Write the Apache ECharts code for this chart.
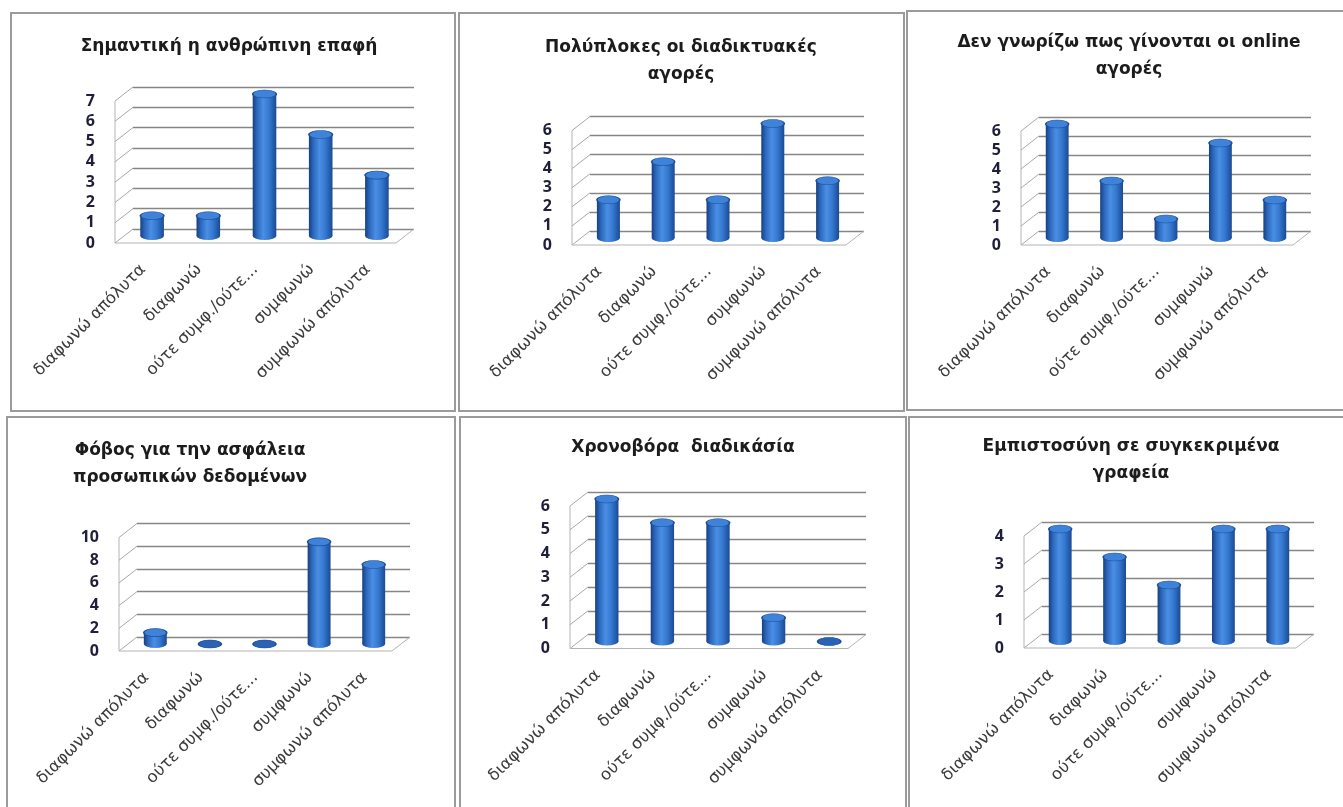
<!DOCTYPE html>
<html>
<head>
<meta charset="utf-8">
<script src="https://cdn.jsdelivr.net/npm/echarts@6/dist/echarts.min.js"></script>
<style>
  html, body { margin: 0; padding: 0; background: #fff; }
  #chart { width: 1343px; height: 807px; }
</style>
</head>
<body>
<div id="chart"></div>
<script>
// Answer scale shared by every panel
const categories = ['διαφωνώ απόλυτα', 'διαφωνώ', 'ούτε συμφ./ούτε...', 'συμφωνώ', 'συμφωνώ απόλυτα'];

// Panel titles
const titles = [
  'Σημαντική η ανθρώπινη επαφή',
  'Πολύπλοκες οι διαδικτυακές\nαγορές',
  'Δεν γνωρίζω πως γίνονται οι online\nαγορές',
  'Φόβος για την ασφάλεια\nπροσωπικών δεδομένων',
  'Χρονοβόρα  διαδικάσία',
  'Εμπιστοσύνη σε συγκεκριμένα\nγραφεία'
];

// Number of answers per category
const humanContact     = [1, 1, 7, 5, 3];
const complexPurchases = [2, 4, 2, 6, 3];
const unknownProcess   = [6, 3, 1, 5, 2];
const dataSafetyFear   = [1, 0, 0, 9, 7];
const timeConsuming    = [6, 5, 5, 1, 0];
const trustedOffices   = [4, 3, 2, 4, 4];

// Value-axis ticks per panel
const ticks1 = [0, 1, 2, 3, 4, 5, 6, 7];
const ticks2 = [0, 1, 2, 3, 4, 5, 6];
const ticks3 = [0, 1, 2, 3, 4, 5, 6];
const ticks4 = [0, 2, 4, 6, 8, 10];
const ticks5 = [0, 1, 2, 3, 4, 5, 6];
const ticks6 = [0, 1, 2, 3, 4];

// Depth of the pseudo-3D box (back wall offset from the front plane)
const DX = 18, DY = -14;

// Layout of each panel: border box, title anchor, front plane of the plot
const panels = [
  { values: humanContact,     ticks: ticks1, border: [11, 13, 444, 398],  title: [229, 47],    plot: { x: 115,  top: 101,   bottom: 243,   w: 281 } },
  { values: complexPurchases, ticks: ticks2, border: [459, 13, 445, 398], title: [681, 61],    plot: { x: 572,  top: 130.5, bottom: 245,   w: 274 } },
  { values: unknownProcess,   ticks: ticks3, border: [907, 11, 445, 399], title: [1129, 56.5], plot: { x: 1021, top: 131,   bottom: 245,   w: 272 } },
  { values: dataSafetyFear,   ticks: ticks4, border: [7, 417, 448, 400],  title: [190, 464.5], plot: { x: 119,  top: 537.5, bottom: 651,   w: 273 } },
  { values: timeConsuming,    ticks: ticks5, border: [460, 417, 446, 400], title: [683, 448],  plot: { x: 570,  top: 506,   bottom: 648.5, w: 278 } },
  { values: trustedOffices,   ticks: ticks6, border: [909, 417, 445, 400], title: [1131, 460.5], plot: { x: 1024, top: 536, bottom: 648,   w: 272 } }
];

const LABEL_FONT = '"DejaVu Sans", "Noto Sans", sans-serif';

const bodyGradient = () => new echarts.graphic.LinearGradient(0, 0, 1, 0, [
  { offset: 0, color: '#173f7e' },
  { offset: 0.18, color: '#2b67bd' },
  { offset: 0.45, color: '#4a8fe3' },
  { offset: 0.7, color: '#3478d0' },
  { offset: 1, color: '#1b4a92' }
]);

// Cylinder standing at mid-depth of the box
function renderCylinder(params, api) {
  const idx = api.value(0);
  const v = api.value(1);
  const base = api.coord([idx, 0]);
  const top = api.coord([idx, v]);
  const cx = base[0] + DX / 2;
  const by = base[1] + DY / 2;
  const ty = top[1] + DY / 2;
  const bw = api.size([1, 0])[0] * 0.42;
  const rx = bw / 2, ry = 4;
  const k = ry / rx;
  const children = [];
  children.push({
    type: 'circle', x: cx, y: by, scaleY: k,
    shape: { cx: 0, cy: 0, r: rx },
    style: { fill: bodyGradient() }
  });
  if (by - ty > 0.5) {
    children.push({
      type: 'rect',
      shape: { x: cx - rx, y: ty, width: bw, height: by - ty },
      style: { fill: bodyGradient() }
    });
  }
  children.push({
    type: 'circle', x: cx, y: ty, scaleY: k,
    shape: { cx: 0, cy: 0, r: rx },
    style: { fill: v > 0 ? '#3f82d9' : '#2a62b4', stroke: '#1d4f9a', lineWidth: 1.6 }
  });
  return { type: 'group', children };
}

// Side wall links at each tick and floor outline
function renderFrame(params, api) {
  const c = params.coordSys;
  const t = api.value(0);
  const y = api.coord([0, t])[1];
  const children = [{
    type: 'line',
    shape: { x1: c.x, y1: y, x2: c.x + DX, y2: y + DY },
    style: { stroke: '#a8a8a8', lineWidth: 1 }
  }];
  if (params.dataIndex === 0) {
    const yb = c.y + c.height;
    children.push(
      { type: 'line', shape: { x1: c.x, y1: c.y, x2: c.x, y2: yb }, style: { stroke: '#b4b4b4', lineWidth: 1 } },
      { type: 'line', shape: { x1: c.x, y1: yb, x2: c.x + c.width, y2: yb }, style: { stroke: '#b4b4b4', lineWidth: 1 } },
      { type: 'line', shape: { x1: c.x + c.width, y1: yb, x2: c.x + c.width + DX, y2: yb + DY }, style: { stroke: '#b4b4b4', lineWidth: 1 } }
    );
  }
  return { type: 'group', children };
}

const grid = [], xAxis = [], yAxis = [], series = [], graphic = [];

panels.forEach((p, i) => {
  const front = 2 * i, back = 2 * i + 1;
  const h = p.plot.bottom - p.plot.top;
  const maxV = p.ticks[p.ticks.length - 1];
  const step = p.ticks[1] - p.ticks[0];

  grid.push({ left: p.plot.x, top: p.plot.top, width: p.plot.w, height: h });
  grid.push({ left: p.plot.x + DX, top: p.plot.top + DY, width: p.plot.w, height: h });

  xAxis.push({
    type: 'category', gridIndex: front, data: categories,
    axisLine: { show: false }, axisTick: { show: false },
    axisLabel: {
      interval: 0, rotate: 45, margin: 24,
      fontFamily: LABEL_FONT, fontSize: 16.5, color: '#3c3c3c'
    }
  });
  xAxis.push({
    type: 'category', gridIndex: back, data: categories,
    axisLine: { show: false }, axisTick: { show: false }, axisLabel: { show: false }
  });

  yAxis.push({
    type: 'value', gridIndex: front, min: 0, max: maxV, interval: step,
    axisLine: { show: false }, axisTick: { show: false }, splitLine: { show: false },
    axisLabel: {
      margin: 20, fontFamily: '"Open Sans", "DejaVu Sans", sans-serif',
      fontWeight: 'bold', fontSize: 16, color: '#1f1f3a'
    }
  });
  yAxis.push({
    type: 'value', gridIndex: back, min: 0, max: maxV, interval: step,
    axisLine: { show: false }, axisTick: { show: false }, axisLabel: { show: false },
    splitLine: { show: true, lineStyle: { color: '#868686', width: 1.3 } }
  });

  series.push({
    type: 'custom', xAxisIndex: front, yAxisIndex: front,
    renderItem: renderFrame, data: p.ticks.map(t => [t]), silent: true, z: 1
  });
  series.push({
    type: 'custom', xAxisIndex: front, yAxisIndex: front,
    renderItem: renderCylinder,
    data: p.values.map((v, k) => [k, v]), silent: true, z: 3
  });

  const b = p.border;
  graphic.push({
    type: 'rect', shape: { x: b[0], y: b[1], width: b[2], height: b[3] },
    style: { fill: 'none', stroke: '#9b9b9b', lineWidth: 2 }, z: 0
  });
  graphic.push({
    type: 'text', x: p.title[0], y: p.title[1],
    style: {
      text: titles[i], align: 'center', verticalAlign: 'middle',
      font: 'bold 17px "DejaVu Sans", sans-serif', lineHeight: 27, fill: '#1c1c1c'
    }, z: 10
  });
});

const chart = echarts.init(document.getElementById('chart'), null, { renderer: 'canvas' });
chart.setOption({
  backgroundColor: '#ffffff',
  animation: false,
  grid, xAxis, yAxis, series, graphic
});
</script>
</body>
</html>
